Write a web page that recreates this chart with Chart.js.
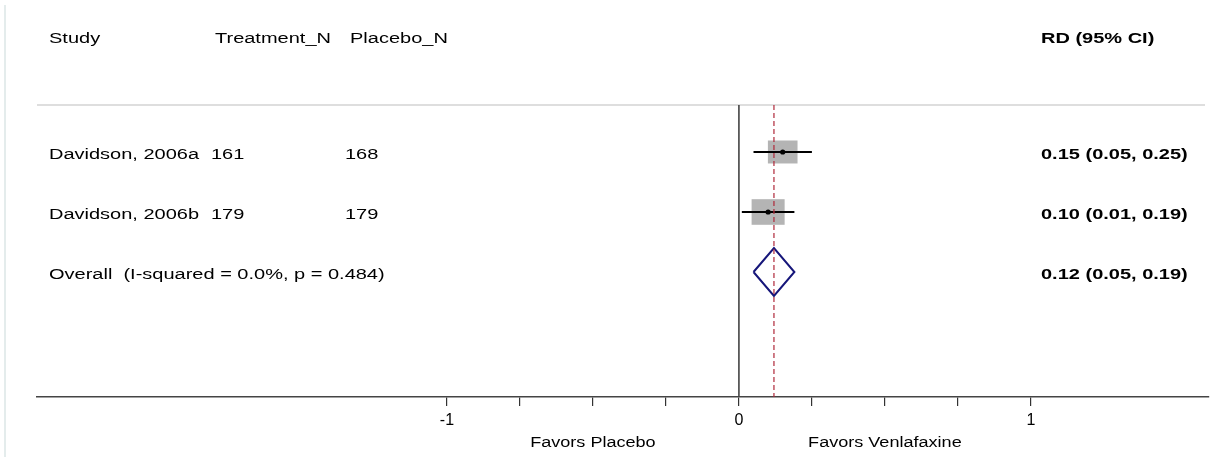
<!DOCTYPE html>
<html>
<head>
<meta charset="utf-8">
<script src="https://cdn.jsdelivr.net/npm/chart.js@4"></script>
<style>
  body { margin: 0; background: #fff; }
  canvas { display: block; }
</style>
</head>
<body>
<canvas id="forest" width="1218" height="457"></canvas>
<script>
const studies = ['Davidson, 2006a', 'Davidson, 2006b'];
const treatmentN = [161, 179];
const placeboN = [168, 179];
const rd = [0.15, 0.10];
const ciLow = [0.05, 0.01];
const ciHigh = [0.25, 0.19];
const weights = [44.6, 55.4];
const overallLabel = 'Overall  (I-squared = 0.0%, p = 0.484)';
const overallRD = [0.12, 0.05, 0.19]; // estimate, low, high
const xTicks = [-1, -0.75, -0.5, -0.25, 0, 0.25, 0.5, 0.75, 1];
const xTickLabels = [-1, 0, 1];
const favorsLabels = ['Favors Placebo', 'Favors Venlafaxine'];
const favorsAt = [-0.5, 0.5];

const FONT = '"Liberation Sans", Arial, sans-serif';
const STRETCH = 1.29;   // the picture is a bit wider than tall
const BOX_K = 3.44;
const DIAMOND_H = 0.4;
const X_MIN = -2.404, X_MAX = 1.61;
const Y_MIN = 0.217, Y_MAX = 5.083;

const fmt = (e, l, h) => e.toFixed(2) + ' (' + l.toFixed(2) + ', ' + h.toFixed(2) + ')';

function text(ctx, str, x, y, size, bold, align) {
    ctx.save();
    ctx.font = (bold ? 'bold ' : '') + size + 'px ' + FONT;
    ctx.fillStyle = '#000';
    ctx.textAlign = align || 'left';
    ctx.textBaseline = 'alphabetic';
    ctx.translate(x, y);
    ctx.scale(STRETCH, 1);
    ctx.fillText(str, 0, 0);
    ctx.restore();
}

const forestPlugin = {
    id: 'forest',
    beforeDraw(chart) {
        const ctx = chart.ctx;
        ctx.save();
        ctx.strokeStyle = '#e4ecec';
        ctx.lineWidth = 2;
        ctx.beginPath();
        ctx.moveTo(5, 5);
        ctx.lineTo(5, 457);
        ctx.stroke();
        ctx.restore();
    },
    beforeDatasetsDraw(chart) {
        const {ctx, chartArea, scales: {x, y}} = chart;
        ctx.save();
        ctx.strokeStyle = '#dedede';
        ctx.lineWidth = 2;
        ctx.beginPath();
        ctx.moveTo(chartArea.left, chartArea.top);
        ctx.lineTo(chartArea.right - 4, chartArea.top);
        ctx.stroke();
        ctx.fillStyle = '#b4b4b4';
        weights.forEach((w, i) => {
            const h = BOX_K * Math.sqrt(w);
            const wd = h * STRETCH;
            const cx = x.getPixelForValue(rd[i]);
            const cy = y.getPixelForValue(i + 1);
            ctx.fillRect(cx - wd / 2, cy - h / 2, wd, h);
        });
        ctx.restore();
    },
    afterDraw(chart) {
        const {ctx, scales: {x, y}} = chart;
        text(ctx, 'Study', 49, 43, 15.5);
        text(ctx, 'Treatment_N', 215, 43, 15.5);
        text(ctx, 'Placebo_N', 350, 43, 15.5);
        text(ctx, 'RD (95% CI)', 1041, 43, 15.5, true);
        studies.forEach((s, i) => {
            const by = y.getPixelForValue(i + 1) + 7;
            text(ctx, s, 49, by, 15.5);
            text(ctx, String(treatmentN[i]), 211, by, 15.5);
            text(ctx, String(placeboN[i]), 345, by, 15.5);
            text(ctx, fmt(rd[i], ciLow[i], ciHigh[i]), 1041, by, 15.5, true);
        });
        const oy = y.getPixelForValue(studies.length + 1) + 7;
        text(ctx, overallLabel, 49, oy, 15.5);
        text(ctx, fmt(overallRD[0], overallRD[1], overallRD[2]), 1041, oy, 15.5, true);
        favorsLabels.forEach((f, i) => {
            text(ctx, f, x.getPixelForValue(favorsAt[i]), 447, 14, false, 'center');
        });
    }
};

const datasets = [];
// null line and overall line
datasets.push({
    data: [{x: 0, y: Y_MIN}, {x: 0, y: Y_MAX}],
    borderColor: '#444', borderWidth: 1.6, pointRadius: 0, showLine: true
});
datasets.push({
    data: [{x: overallRD[0], y: Y_MIN}, {x: overallRD[0], y: Y_MAX}],
    borderColor: '#b0283a', borderWidth: 1.2, borderDash: [5, 3], pointRadius: 0, showLine: true
});
// confidence intervals
studies.forEach((s, i) => {
    datasets.push({
        data: [{x: ciLow[i], y: i + 1}, {x: ciHigh[i], y: i + 1}],
        borderColor: '#000', borderWidth: 2, pointRadius: 0, showLine: true
    });
});
// point estimates
datasets.push({
    data: rd.map((v, i) => ({x: v, y: i + 1})),
    pointRadius: 2.6, pointBackgroundColor: '#000', pointBorderWidth: 0, showLine: false
});
// overall diamond
const row = studies.length + 1;
datasets.push({
    data: [
        {x: overallRD[1], y: row},
        {x: overallRD[0], y: row - DIAMOND_H},
        {x: overallRD[2], y: row},
        {x: overallRD[0], y: row + DIAMOND_H},
        {x: overallRD[1], y: row}
    ],
    borderColor: '#16167a', borderWidth: 2, borderJoinStyle: 'miter', pointRadius: 0, showLine: true
});

new Chart(document.getElementById('forest'), {
    type: 'scatter',
    data: {datasets: datasets},
    options: {
        responsive: false,
        devicePixelRatio: 1,
        animation: false,
        layout: {padding: {left: 37, right: 9, top: 105, bottom: 0}},
        plugins: {legend: {display: false}, tooltip: {enabled: false}},
        scales: {
            x: {
                type: 'linear', min: X_MIN, max: X_MAX,
                afterBuildTicks: axis => { axis.ticks = xTicks.map(v => ({value: v})); },
                afterFit: scale => { scale.height = 60; },
                grid: {drawOnChartArea: false, drawTicks: true, tickLength: 9, color: '#333', lineWidth: 1.2},
                border: {display: true, color: '#444', width: 1.5},
                ticks: {
                    autoSkip: false, maxRotation: 0, padding: 5, color: '#000',
                    font: {family: FONT, size: 16},
                    callback: v => xTickLabels.includes(v) ? String(v) : ''
                }
            },
            y: {type: 'linear', reverse: true, min: Y_MIN, max: Y_MAX, display: false}
        }
    },
    plugins: [forestPlugin]
});
</script>
</body>
</html>
